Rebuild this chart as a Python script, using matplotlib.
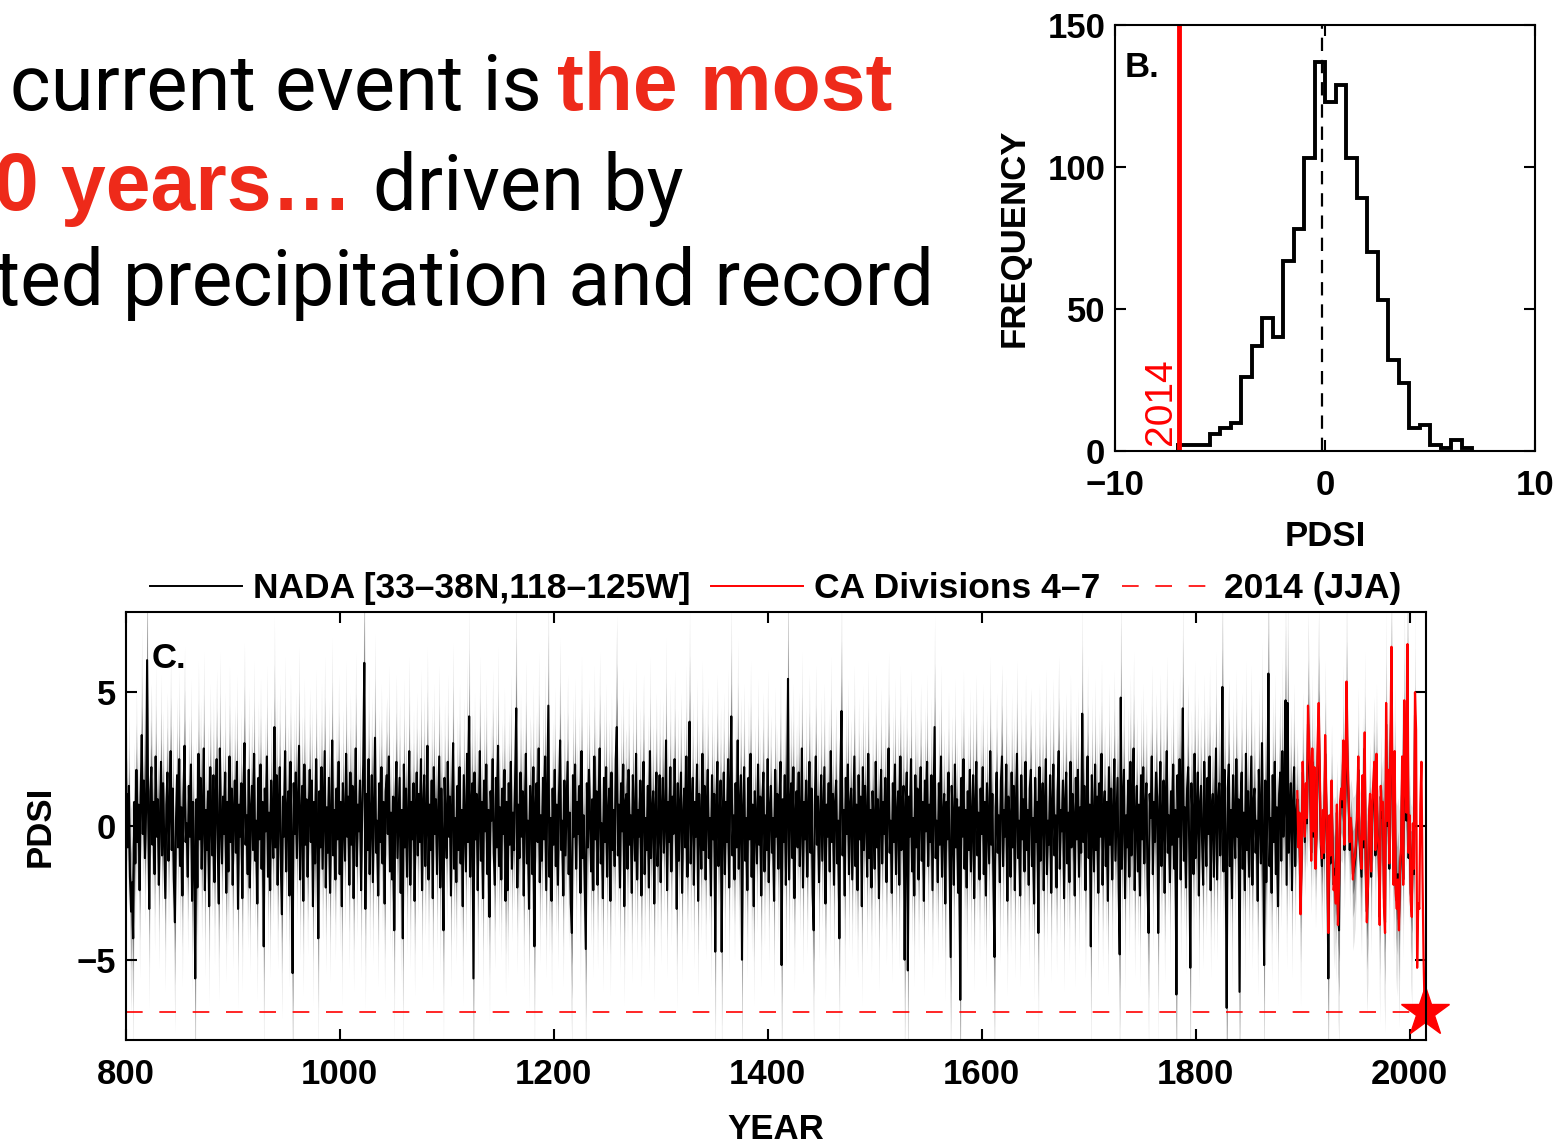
import numpy as np
import matplotlib
matplotlib.use('Agg')
import matplotlib.pyplot as plt
from matplotlib.lines import Line2D

# NADA PDSI reconstruction [33-38N, 118-125W], one value per year from 800
nada_start = 800
nada_text = """
0.4 1.2 -0.8 1.5 -1.9 -3.2 -2.1 -4.2 0.9 -1.4
2.1 -0.6 0.8 -2.4 1.1 3.4 -0.3 1.7 -1.2 0.5
6.2 0.4 -3.1 1.3 2.2 -0.7 0.9 -1.8 2.6 -0.4
1.0 -2.2 0.3 2.4 -1.1 1.6 -0.5 -2.7 0.8 2.0
-1.3 0.6 2.8 -0.9 1.4 -2.0 -3.6 0.2 1.9 -0.8
2.5 -1.5 0.7 -2.6 1.2 3.0 -0.6 0.1 -1.9 1.5
-0.4 2.3 -2.8 0.9 -1.2 -5.7 1.0 -2.3 2.7 -0.5
1.8 -1.6 0.4 2.9 -2.4 0.6 -0.9 1.3 -3.0 2.2
0.3 -1.1 1.9 -2.1 0.7 2.5 -0.8 -2.9 2.9 0.2
-1.4 1.1 -0.3 2.0 -2.5 0.9 -1.7 2.6 -0.6 1.4
-2.2 0.5 1.7 -1.0 2.4 -3.1 0.8 -0.4 1.6 -2.7
1.2 3.1 -0.7 0.4 -1.8 2.1 -2.3 0.6 1.5 -0.9
2.7 -1.3 0.2 -2.9 1.8 -0.5 2.3 -1.6 0.9 -4.5
1.4 -0.2 2.6 -1.9 0.5 -2.4 1.7 0.1 -1.2 3.7
-0.8 1.9 -2.2 0.7 2.2 -1.5 -3.3 1.1 -0.4 2.8
-1.7 0.6 1.3 -2.6 2.4 -0.9 -5.5 1.6 -0.3 2.0
-1.2 0.8 3.0 -2.0 0.3 1.5 -2.8 2.3 -0.7 1.0
-1.9 0.4 2.1 -0.6 1.7 -3.0 0.9 -1.4 2.5 -0.2
-4.2 1.3 -0.8 2.2 -1.6 0.5 2.8 -2.3 0.7 -1.0
1.8 -2.5 0.2 3.2 -1.1 0.6 -2.0 1.4 -0.5 2.4
-1.8 0.9 -3.0 1.6 0.3 -1.3 2.7 -0.4 1.1 -2.2
2.0 -0.7 1.5 -2.7 0.4 2.9 -1.5 0.8 -0.2 1.7
-2.4 0.6 2.3 6.1 -3.1 1.2 -0.9 2.5 -1.8 0.3
1.9 -2.1 0.7 3.3 -1.0 0.2 -2.6 1.6 -0.6 2.2
-1.4 0.9 -2.9 1.3 1.9 -0.3 2.6 -1.7 0.5 -2.0
1.1 -3.9 0.8 2.4 -1.2 0.3 1.8 -2.5 0.6 -4.2
2.3 -0.8 1.4 -1.9 0.2 2.8 -2.2 0.9 -0.5 1.6
-2.8 0.4 2.0 -1.1 1.2 -0.6 2.5 -2.4 0.7 1.9
-1.5 0.1 3.0 -2.0 0.8 -0.9 1.7 -2.7 2.2 -0.3
1.0 -1.8 0.5 2.6 -2.3 1.4 -0.7 -3.9 1.8 0.2
-1.2 2.4 -0.4 1.1 -2.6 0.7 3.1 -1.6 0.3 -2.1
1.5 -0.9 2.2 -1.4 0.6 -3.0 1.9 0.1 -1.7 2.7
-0.6 4.1 -1.9 0.8 1.6 -5.7 2.0 -0.5 1.2 -2.4
0.4 2.8 -1.3 0.9 -2.7 1.7 -0.2 2.3 -1.8 0.6
-3.4 1.3 0.2 2.5 -1.0 -2.2 1.8 -0.8 3.0 -1.5
0.7 -2.0 1.4 -0.3 2.1 -2.8 0.9 -2.4 1.6 -0.7
2.4 -1.6 0.5 -0.9 1.9 4.4 -2.3 0.8 -1.2 2.0
-0.4 1.3 -2.6 0.6 2.7 -1.4 0.2 -3.1 1.5 0.9
-1.8 2.2 -4.5 0.7 1.6 -0.6 2.9 -2.1 0.4 -1.3
1.8 -0.5 2.6 -2.4 0.9 4.5 -1.9 0.3 -2.8 1.4
-0.7 2.1 -1.5 0.8 -2.2 1.2 3.2 -0.9 0.2 -2.6
1.7 -1.1 0.6 2.4 -1.8 0.5 -2.9 -4.0 1.9 -0.4
2.3 -1.6 0.9 -0.3 1.5 -2.5 2.8 -1.2 0.4 -2.0
-4.6 1.6 -0.8 2.1 0.3 -1.7 1.0 -2.4 2.6 -0.5
1.3 -2.2 0.7 2.9 -1.4 0.1 -2.7 1.8 -0.6 2.2
-1.9 0.5 1.4 -2.8 2.0 -0.9 0.6 -1.5 2.5 3.7
-1.1 0.8 -2.3 1.6 -0.2 2.3 -3.0 0.9 1.2 -1.6
2.1 -0.7 0.4 -2.5 1.9 0.2 -1.3 2.7 -2.0 0.6
-0.4 1.7 -2.6 0.9 2.4 -1.8 0.3 -0.9 1.5 -2.3
2.8 -1.2 0.5 1.3 -2.9 0.7 2.0 -1.5 -0.2 1.9
-2.1 0.6 1.8 -1.0 0.2 3.2 -2.4 0.9 -0.6 2.2
-1.7 1.1 -0.3 2.5 0.4 -3.1 1.6 -1.3 0.8 2.0
-2.5 0.3 1.4 -0.8 2.6 -1.9 0.7 3.9 -1.4 0.5
1.8 -2.2 0.9 -0.4 2.3 -2.8 1.2 0.1 -1.6 2.7
-0.9 1.5 -2.0 0.6 2.1 -1.2 0.3 -2.6 1.9 -0.5
1.2 -4.7 0.8 2.4 -1.5 0.2 1.7 -4.7 0.5 2.0
-1.8 0.9 -0.6 2.5 -2.3 1.4 4.1 -1.1 0.4 -2.0
1.6 -0.8 3.2 -1.6 0.7 1.9 -5.0 0.6 2.2 -1.3
0.3 -2.4 1.8 -0.5 2.7 -1.9 0.8 -3.0 1.3 0.2
-1.4 2.3 -0.7 1.1 -2.6 0.9 2.0 -1.7 0.4 -0.9
2.5 -2.1 0.6 1.5 -1.0 0.3 -2.8 2.1 -0.4 1.2
-1.6 0.8 2.4 -5.2 1.0 -0.6 1.9 -2.2 0.5 5.5
-2.0 0.7 1.6 -1.2 2.2 -2.7 0.4 1.3 -0.8 2.0
-1.5 0.2 2.9 -2.3 0.9 -0.5 1.7 -1.9 0.6 2.4
-1.0 1.4 -2.5 -3.9 0.8 2.6 -0.7 1.1 -2.1 0.3
1.9 -1.3 0.5 2.2 -2.9 0.8 -0.4 1.6 -1.7 2.8
-0.6 1.2 -2.2 0.9 1.7 -1.4 0.2 -4.2 2.0 4.3
-1.1 0.6 -2.6 1.8 -0.3 2.3 -1.8 0.7 1.4 -2.0
0.4 2.6 -1.5 0.8 -2.4 1.9 -0.5 1.1 -3.0 2.2
-0.9 1.5 0.3 -1.9 2.7 -1.2 0.6 -2.3 1.3 0.1
-1.6 2.4 -0.8 1.0 -2.7 0.5 2.1 -1.4 0.9 -0.3
1.8 -2.1 0.7 2.9 -1.0 0.2 -2.5 1.6 -0.6 2.3
-1.8 0.4 1.3 -2.2 2.6 -0.9 0.8 1.5 -5.0 0.6
2.0 -5.4 1.1 -0.4 2.5 -1.7 0.3 -2.6 1.9 -0.8
1.4 -2.0 0.6 2.2 -1.3 0.9 -2.8 1.7 -0.2 2.4
-1.5 0.8 -0.6 1.9 -2.4 0.5 3.7 -1.2 0.2 -2.1
1.6 -0.7 2.6 -1.9 0.4 1.2 -2.9 0.9 -0.5 2.0
-1.3 -4.9 1.5 0.3 -2.2 2.3 -0.8 1.0 -2.5 0.7
-6.5 1.8 -0.4 2.5 -1.6 0.6 -2.3 1.3 -0.9 2.1
-1.7 0.2 1.9 -2.7 0.8 2.4 -1.1 0.5 -2.0 1.4
-0.3 2.2 -1.8 0.9 -2.6 1.6 0.1 -1.4 2.8 -0.7
1.2 -2.3 -4.9 0.7 2.0 -1.0 0.4 -2.1 1.7 2.6
-1.5 0.6 -0.4 2.3 -2.8 1.1 0.3 -1.9 2.0 -0.8
1.5 -2.4 0.8 2.7 -1.2 0.2 -2.6 1.9 -0.5 1.0
-1.7 2.4 -0.9 0.6 -2.2 1.4 2.1 -1.5 0.3 -2.9
1.8 -0.6 0.9 -4.0 2.2 -1.3 0.5 1.6 -2.4 0.7
2.5 -1.8 0.2 -0.7 1.9 -2.5 0.8 2.3 -1.1 0.4
-2.3 1.3 2.8 -1.6 0.6 -0.2 1.7 -2.7 0.9 2.0
-1.4 0.5 -2.1 2.4 -0.8 1.2 0.3 -2.6 1.8 -0.5
2.1 -1.9 0.7 -1.0 4.2 -0.6 1.5 -2.4 0.4 2.6
-1.2 0.8 -4.5 1.9 0.2 -1.7 2.3 -0.9 1.1 -2.5
1.6 -0.4 2.7 -2.2 0.6 1.3 -1.5 0.9 -2.8 2.2
-0.7 1.4 -2.0 0.5 2.5 -1.3 0.2 1.8 -2.3 -4.8
4.8 -1.6 0.9 2.1 -2.7 0.4 -0.8 1.7 -1.9 2.4
-1.1 0.6 2.9 -2.4 0.3 1.5 -1.7 0.8 -2.6 1.9
-0.5 2.2 -1.4 0.7 1.6 -2.2 -4.0 1.2 0.3 2.6
-1.8 0.9 -0.6 2.0 1.1 -4.0 0.5 2.4 -1.5 0.2
1.7 -2.5 0.8 2.8 -1.0 0.4 -2.1 1.3 -0.7 2.3
-1.6 0.6 -6.3 1.9 -0.4 2.5 -2.0 0.9 4.4 -1.3
0.7 -2.3 1.4 2.2 -0.9 -5.3 1.6 0.3 -1.8 2.7
-1.2 0.5 2.0 -2.6 0.8 1.5 -0.6 -2.2 2.4 0.1
-1.5 1.8 -0.3 2.6 -2.4 0.7 1.2 -1.9 0.4 2.9
-2.0 0.9 1.6 -1.1 0.3 5.2 -1.7 2.1 -0.8 -6.8
1.4 2.3 -1.5 0.6 -2.7 1.9 0.2 -1.2 2.5 -0.4
1.0 -6.2 0.8 2.0 -1.6 0.5 -2.4 2.7 -0.9 1.3
-1.9 0.4 2.6 -2.2 0.9 1.4 -1.0 0.2 -2.8 2.1
0.6 -1.4 3.1 -0.7 -5.2 1.7 -2.1 0.8 5.7 -1.5
0.3 -2.5 1.9 -0.6 2.4 -1.8 0.7 -3.0 1.2 2.0
-1.3 2.8 -0.4 0.9 4.7 -2.2 4.6 -1.0 0.5 1.6
-2.4 0.8 2.2 -1.5 0.4 1.0 -0.7 0.4 -3.0 -1.2
2.0 0.7 -0.6 1.4 0.1 3.8 2.5 1.6 -1.0 2.4
-0.4 1.8 -1.3 -0.2 2.6 3.9 1.5 -0.8 -1.5 0.3
-1.2 2.7 0.9 -1.1 -5.7 0.1 -1.4 1.3 -0.9 -2.2
-1.6 -2.5 0.5 -3.3 -3.9 0.6 1.1 0.7 2.6 -0.9
1.4 4.3 2.0 0.8 -0.9 0.1 -0.6 -1.8 -1.6 -1.3
-0.7 0.4 2.1 -0.5 -1.2 -1.9 1.5 -0.8 2.9 -1.5
-3.2 -2.5 0.2 0.9 -1.9 0.5 1.2 1.9 -1.1 2.2
-0.5 -1.0 -3.4 1.1 0.3 0.6 -2.7 -3.6 3.8 0.0
1.7 -1.6 2.5 5.0 0.8 -2.0 2.2 -2.3 -2.8 -1.8
-3.5 -1.7 -1.0 2.1 -2.0 3.9 1.5 0.2 5.6 -1.2
0.2 -2.5 -3.0 -0.2 -1.8 4.1
"""
nada_pdsi = np.array([float(v) for v in nada_text.split()])
nada_years = np.arange(nada_start, nada_start + len(nada_pdsi))

# CA climate divisions 4-7, JJA PDSI, 1895-2014
ca_years = np.arange(1895, 2015)
ca_pdsi = np.array([
    1.3, -0.8, 0.5, -3.3, -1.5, 2.4, 0.9, -0.4, 1.6, 0.3,
    4.5, 3.0, 2.2, -1.3, 2.9, -0.2, 2.2, -1.6, -0.3, 3.1,
    4.6, 2.0, -0.5, -1.2, 0.6, -1.0, 3.4, 1.2, -0.9, -4.0,
    0.4, -1.1, 1.7, -0.8, -2.4, -1.9, -2.9, 0.8, -3.7, -2.1,
    0.9, 1.4, 1.0, 3.2, -0.7, 1.8, 5.4, 2.5, 1.1, -0.6,
    0.3, -0.4, -2.0, -1.4, -1.1, -0.5, 0.7, 2.6, -0.3, -0.9,
    -1.6, 1.9, -0.5, 3.5, -1.8, -3.6, -2.3, 0.4, 1.2, -1.7,
    0.8, 1.6, 2.4, -0.9, 2.7, -0.3, -0.8, -3.7, 1.5, 0.6,
    0.9, -3.0, -4.0, 4.6, 0.2, 2.1, -1.4, 3.0, 6.7, 1.1,
    -2.2, 2.8, -2.5, -3.1, -2.0, -3.9, -1.5, -0.8, 2.6, -2.2,
    4.7, 1.9, 0.5, 6.8, -1.0, 0.4, -2.8, -3.4, 0.1, -1.6,
    5.0, 3.6, -5.3, -2.9, -3.1, 0.8, 2.4, -1.8, -4.9, -6.9])

pdsi_2014 = -6.94

# panel B histogram of NADA PDSI
hist_edges = np.arange(-7.0, 7.5, 0.5)
hist_counts = [2, 2, 2, 6, 8, 10, 26, 37, 47, 40, 67, 78, 103, 137,
               123, 129, 103, 89, 70, 53, 32, 24, 8, 9, 2, 1, 4, 1]
hist_mean = -0.15

plt.rcParams['font.family'] = ['Liberation Sans', 'DejaVu Sans']
plt.rcParams['font.weight'] = 'bold'
plt.rcParams['axes.labelweight'] = 'bold'
plt.rcParams['font.size'] = 25
plt.rcParams['axes.linewidth'] = 1.5

fig = plt.figure(figsize=(15.54, 11.43), dpi=100)
W, H = 1554.0, 1143.0

# slide text (cut off at the left edge)
red_txt = '#ee2a1a'
light = ['Roboto', 'Liberation Sans']
fig.text(10 / W, 1 - 110 / H, 'current event is', fontsize=56,
         family=light, fontweight='normal', va='baseline')
fig.text(557 / W, 1 - 110 / H, 'the most', fontsize=58, color=red_txt,
         fontweight='bold', va='baseline')
fig.text(-6 / W, 1 - 210 / H, '0 years\u2026', fontsize=58, color=red_txt,
         fontweight='bold', va='baseline')
fig.text(373 / W, 1 - 210 / H, 'driven by', fontsize=56,
         family=light, fontweight='normal', va='baseline')
fig.text(-5 / W, 1 - 305 / H, 'ted precipitation and record', fontsize=55.2,
         family=light, fontweight='normal', va='baseline')

# Panel B
axB = fig.add_axes([1115 / W, 1 - 451 / H, 420 / W, 426 / H])
axB.stairs(hist_counts, hist_edges, color='k', lw=2.8)
axB.axvline(hist_mean, color='k', lw=1.6, ls=(0, (6, 4)))
axB.axvline(pdsi_2014, color='r', lw=3.5)
axB.text(-7.8, 2, '2014', color='r', rotation=90, ha='center', va='bottom',
         fontweight='normal', fontsize=28)
axB.text(0.024, 0.9, 'B.', transform=axB.transAxes, va='center')
axB.set_xlim(-10, 10)
axB.set_ylim(0, 150)
axB.set_xticks([-10, 0, 10])
axB.set_yticks([0, 50, 100, 150])
axB.tick_params(direction='in', length=8, width=1.5, top=True, right=True)
axB.tick_params(axis='x', pad=13)
axB.tick_params(axis='y', pad=7)
axB.set_xlabel('PDSI')
axB.set_ylabel('FREQUENCY')
axB.xaxis.set_label_coords(0.5, -0.162)
axB.yaxis.set_label_coords(-0.202, 0.5)

# Panel C
axC = fig.add_axes([125.7 / W, 1 - 1040 / H, 1300 / W, 428 / H])
spread = np.abs(nada_pdsi)
axC.fill_between(nada_years, nada_pdsi - 1.6 - 0.7 * spread,
                 nada_pdsi + 1.6 + 0.7 * spread, color='#e2e2e2', lw=0)
axC.fill_between(nada_years, nada_pdsi - 0.9 - 0.4 * spread,
                 nada_pdsi + 0.9 + 0.4 * spread, color='#ababab', lw=0)
axC.fill_between(nada_years, nada_pdsi - 0.4 - 0.2 * spread,
                 nada_pdsi + 0.4 + 0.2 * spread, color='#6a6a6a', lw=0)
axC.plot(nada_years, nada_pdsi, color='k', lw=1.5)
axC.plot(ca_years, ca_pdsi, color='r', lw=1.6)
axC.axhline(pdsi_2014, color='r', lw=1.2, dashes=(10, 10))
axC.plot(ca_years[-1], pdsi_2014, marker='*', ms=37, color='r', clip_on=False)
axC.text(0.02, 0.8925, 'C.', transform=axC.transAxes, va='center')
axC.set_xlim(800, 2015)
axC.set_ylim(-8, 8)
axC.set_xticks(np.arange(800, 2001, 200))
axC.set_yticks([-5, 0, 5])
axC.tick_params(direction='in', length=8, width=1.5, top=True, right=True)
axC.tick_params(axis='x', pad=13)
axC.tick_params(axis='y', pad=7)
axC.set_xlabel('YEAR')
axC.set_ylabel('PDSI')
axC.xaxis.set_label_coords(0.5, -0.171)
axC.yaxis.set_label_coords(-0.053, 0.5)

handles = [Line2D([], [], color='k', lw=1.4),
           Line2D([], [], color='r', lw=1.4),
           Line2D([], [], color='r', lw=1.2, dashes=(10, 10))]
labels = ['NADA [33\u201338N,118\u2013125W]', 'CA Divisions 4\u20137', '2014 (JJA)']
axC.legend(handles, labels, loc='lower center', bbox_to_anchor=(0.5, 1.0),
           ncol=3, frameon=False, handlelength=2.6, handletextpad=0.3,
           columnspacing=0.6, borderaxespad=0.1, borderpad=0.1,
           prop={'size': 25.5, 'weight': 'bold'})

fig.savefig('out.png', dpi=100)
